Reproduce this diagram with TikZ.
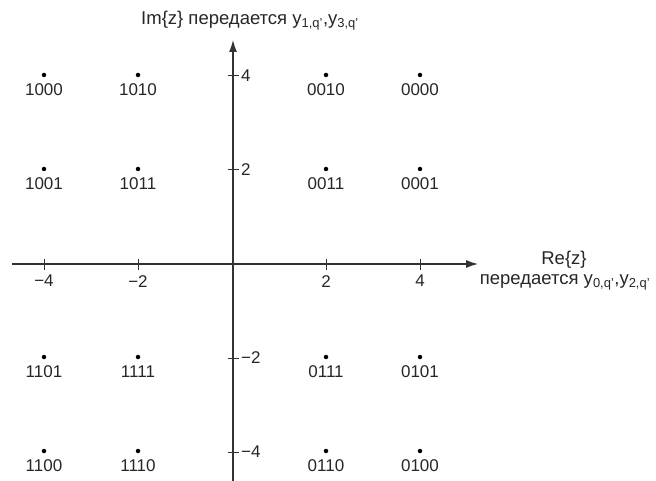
\documentclass[tikz,border=0pt]{standalone}
\usepackage{fontspec}
\setmainfont{Liberation Sans}
\usetikzlibrary{arrows.meta}
\newcommand{\sbs}[1]{\textsubscript{#1}}
\begin{document}
\begin{tikzpicture}[x=1pt,y=-1pt,
  axis/.style={draw=black!80,line width=1.1pt},
  arr/.style={-{Latex[length=12pt,width=8pt]}},
  tick/.style={draw=black!80,line width=1pt},
  dot/.style={circle,fill=black,inner sep=0pt,minimum size=4.5pt},
  lab/.style={inner sep=0pt,font=\fontsize{17}{19}\selectfont,text=black!85},
  ttl/.style={inner sep=0pt,font=\fontsize{18.5}{21}\selectfont,text=black!85,align=center}]
\useasboundingbox (0,0) rectangle (656,481);
% axes
\coordinate (xs) at (12,264);
\coordinate (xe) at (478,264);
\coordinate (ys) at (233,481);
\coordinate (ye) at (233,40);
\draw[axis,arr] (xs) -- (xe);
\draw[axis,arr] (ys) -- (ye);
% x ticks
\foreach \x/\t/\n in {44/−4/a,138/−2/b,326/2/c,420/4/d}{
  \coordinate (xt\n1) at (\x,259);
  \coordinate (xt\n2) at (\x,270);
  \draw[tick] (xt\n1) -- (xt\n2);
  \node[lab,anchor=north] (xl\n) at (\x,275) {\t};
}
% y ticks
\foreach \y/\t/\n in {76/4/a,170/2/b,358/−2/c,452/−4/d}{
  \coordinate (yt\n1) at (228,\y);
  \coordinate (yt\n2) at (239,\y);
  \draw[tick] (yt\n1) -- (yt\n2);
  \node[lab,anchor=west] (yl\n) at (241,\y) {\t};
}
% points
\foreach \x/\y/\t/\n in {
  44/75/1000/p1,138/75/1010/p2,326/75/0010/p3,420/75/0000/p4,
  44/169/1001/p5,138/169/1011/p6,326/169/0011/p7,420/169/0001/p8,
  44/357/1101/p9,138/357/1111/p10,326/357/0111/p11,420/357/0101/p12,
  44/451/1100/p13,138/451/1110/p14,326/451/0110/p15,420/451/0100/p16}{
  \node[dot] (\n) at (\x,\y) {};
  \node[lab] (\n l) at (\x,\y+15) {\t};
}
% axis titles
\node[ttl] (imt) at (250,21) {Im\{z\} передается y\sbs{1,q'},y\sbs{3,q'}};
\node[ttl] (ret1) at (564,260) {Re\{z\}};
\node[ttl] (ret2) at (565,282) {передается y\sbs{0,q'},y\sbs{2,q'}};
\end{tikzpicture}
\end{document}
